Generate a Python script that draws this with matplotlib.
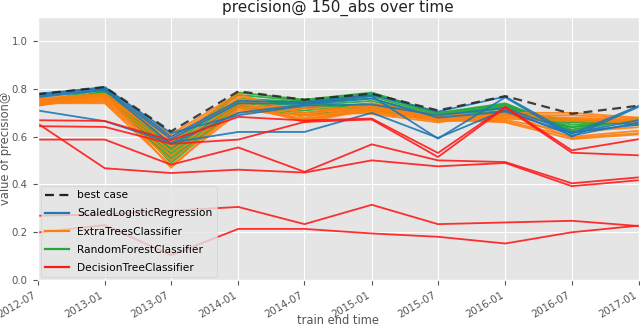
import matplotlib
matplotlib.use("Agg")
import matplotlib.pyplot as plt
import matplotlib.dates as mdates
import pandas as pd
from matplotlib.lines import Line2D

plt.style.use("ggplot")

dates = ["2012-07", "2013-01", "2013-07", "2014-01", "2014-07",
         "2015-01", "2015-07", "2016-01", "2016-07", "2017-01"]

best_case = [0.778, 0.808, 0.622, 0.790, 0.755, 0.780, 0.710, 0.770, 0.696, 0.730]

logreg = [
    [0.775, 0.808, 0.600, 0.750, 0.745, 0.775, 0.705, 0.768, 0.612, 0.730],
    [0.770, 0.800, 0.590, 0.740, 0.738, 0.770, 0.592, 0.765, 0.600, 0.726],
    [0.710, 0.665, 0.575, 0.620, 0.620, 0.700, 0.595, 0.712, 0.605, 0.660],
    [0.780, 0.805, 0.615, 0.690, 0.730, 0.735, 0.690, 0.720, 0.620, 0.650],
    [0.765, 0.795, 0.570, 0.700, 0.735, 0.760, 0.680, 0.705, 0.615, 0.670],
]

extratrees = [
    [0.760, 0.780, 0.610, 0.780, 0.690, 0.740, 0.690, 0.700, 0.700, 0.680],
    [0.750, 0.770, 0.600, 0.770, 0.700, 0.735, 0.680, 0.690, 0.690, 0.675],
    [0.745, 0.765, 0.580, 0.760, 0.680, 0.730, 0.675, 0.685, 0.680, 0.670],
    [0.740, 0.760, 0.560, 0.740, 0.670, 0.725, 0.670, 0.680, 0.670, 0.665],
    [0.735, 0.755, 0.540, 0.730, 0.665, 0.720, 0.668, 0.675, 0.665, 0.660],
    [0.750, 0.750, 0.520, 0.720, 0.675, 0.710, 0.665, 0.670, 0.620, 0.640],
    [0.745, 0.745, 0.500, 0.710, 0.690, 0.700, 0.670, 0.665, 0.600, 0.625],
    [0.740, 0.740, 0.480, 0.700, 0.720, 0.695, 0.660, 0.700, 0.595, 0.615],
    [0.755, 0.775, 0.470, 0.720, 0.730, 0.705, 0.672, 0.660, 0.590, 0.610],
    [0.730, 0.770, 0.590, 0.750, 0.660, 0.715, 0.685, 0.695, 0.675, 0.668],
]

randomforest = [
    [0.745, 0.800, 0.570, 0.785, 0.755, 0.785, 0.700, 0.740, 0.630, 0.680],
    [0.740, 0.790, 0.560, 0.775, 0.750, 0.780, 0.695, 0.735, 0.625, 0.675],
    [0.735, 0.785, 0.550, 0.760, 0.745, 0.770, 0.690, 0.730, 0.640, 0.672],
    [0.730, 0.780, 0.540, 0.750, 0.740, 0.760, 0.685, 0.725, 0.650, 0.668],
    [0.750, 0.775, 0.530, 0.745, 0.730, 0.750, 0.680, 0.720, 0.660, 0.665],
    [0.745, 0.770, 0.520, 0.740, 0.720, 0.740, 0.678, 0.710, 0.665, 0.660],
    [0.740, 0.780, 0.510, 0.730, 0.710, 0.735, 0.690, 0.705, 0.670, 0.655],
    [0.735, 0.775, 0.500, 0.725, 0.700, 0.730, 0.685, 0.700, 0.670, 0.650],
    [0.730, 0.790, 0.490, 0.720, 0.690, 0.720, 0.680, 0.695, 0.660, 0.670],
    [0.745, 0.785, 0.545, 0.735, 0.750, 0.710, 0.675, 0.700, 0.640, 0.675],
]

decisiontree = [
    [0.669, 0.666, 0.585, 0.683, 0.668, 0.676, 0.532, 0.725, 0.543, 0.590],
    [0.644, 0.641, 0.570, 0.588, 0.662, 0.672, 0.515, 0.722, 0.533, 0.522],
    [0.588, 0.588, 0.483, 0.555, 0.453, 0.568, 0.501, 0.494, 0.405, 0.430],
    [0.656, 0.468, 0.448, 0.462, 0.450, 0.501, 0.476, 0.490, 0.393, 0.418],
    [0.269, 0.275, 0.290, 0.306, 0.234, 0.315, 0.234, 0.241, 0.248, 0.226],
    [0.199, 0.230, 0.104, 0.214, 0.214, 0.195, 0.181, 0.153, 0.200, 0.228],
]

model_names = ["ScaledLogisticRegression", "ExtraTreesClassifier",
               "RandomForestClassifier", "DecisionTreeClassifier"]
model_colors = ["#1f77b4", "#ff7f0e", "#22a838", "#ff1a1a"]

x = pd.to_datetime(dates)

fig = plt.figure(figsize=(6.4, 3.26), dpi=100)
ax = fig.add_axes([0.0586, 0.141, 0.940, 0.806])

for series, c in [(randomforest, model_colors[2]), (extratrees, model_colors[1]),
                  (logreg, model_colors[0]), (decisiontree, model_colors[3])]:
    for s in series:
        ax.plot(x, s, color=c, linewidth=1.3, alpha=0.9)

ax.plot(x, best_case, color="#222222", linestyle=(0, (4, 2.5)), linewidth=1.6, alpha=0.85)

ax.set_xlim(x[0], x[-1])
ax.set_ylim(0, 1.1)
ax.set_yticks([0.0, 0.2, 0.4, 0.6, 0.8, 1.0])
ax.set_xticks(x)
ax.xaxis.set_major_formatter(mdates.DateFormatter("%Y-%m"))
for lbl in ax.get_xticklabels():
    lbl.set_rotation(30)
    lbl.set_ha("right")
ax.tick_params(labelsize=7.3, colors="#555555")

ax.set_title("precision@ 150_abs over time", fontsize=11, color="#222222", pad=4)
ax.set_xlabel("train end time", fontsize=8.3, color="#555555")
ax.xaxis.set_label_coords(0.5, -0.128)
ax.set_ylabel("value of precision@", fontsize=8.3, color="#555555")
ax.yaxis.set_label_coords(-0.042, 0.5)

handles = [Line2D([], [], color="#222222", linestyle=(0, (4, 2.5)), linewidth=1.6)]
handles += [Line2D([], [], color=c, linewidth=1.6) for c in model_colors]
ax.legend(handles, ["best case"] + model_names, loc="lower left", fontsize=7.7,
          framealpha=0.8, handlelength=2.2, labelspacing=0.75,
          borderaxespad=0.3)

fig.savefig("out.png", dpi=100)
